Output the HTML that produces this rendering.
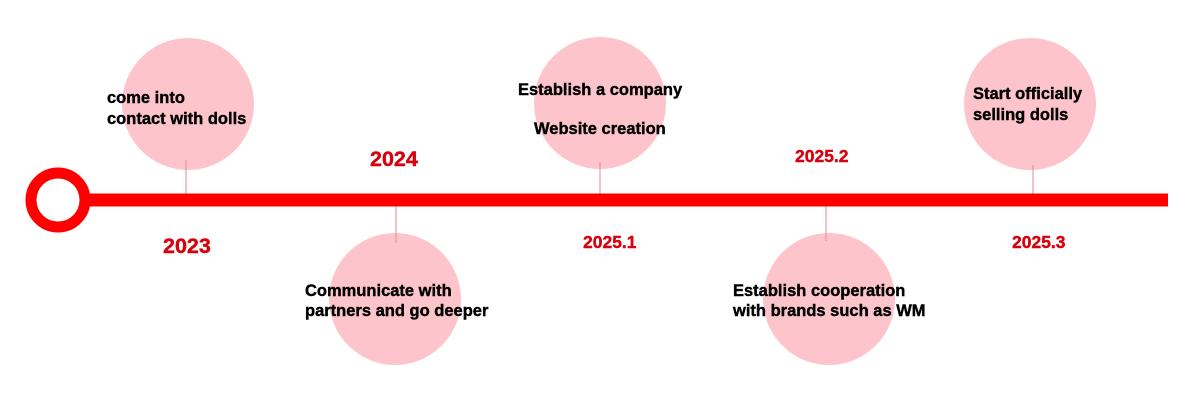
<!DOCTYPE html>
<html><head><meta charset="utf-8"><style>
html,body{margin:0;padding:0;background:#fff;}
svg text{font-family:"Liberation Sans",sans-serif;font-weight:bold;}
</style></head><body>
<svg width="1200" height="400" viewBox="0 0 1200 400" xmlns="http://www.w3.org/2000/svg">
<rect width="1200" height="400" fill="#fff"/>
<g fill="#fdc5cb">
<circle cx="188" cy="104" r="66"/>
<circle cx="395" cy="299" r="66"/>
<circle cx="600" cy="103" r="66"/>
<circle cx="829" cy="299" r="66"/>
<circle cx="1030" cy="104" r="66"/>
</g>
<g stroke="#e58a95" stroke-width="1">
<line x1="186" y1="160" x2="186" y2="194"/>
<line x1="396" y1="206" x2="396" y2="243"/>
<line x1="600" y1="162" x2="600" y2="194"/>
<line x1="826" y1="206" x2="826" y2="241"/>
<line x1="1033" y1="165" x2="1033" y2="194"/>
</g>
<rect x="84" y="193.5" width="1084" height="13" fill="#ff0000"/>
<circle cx="58" cy="200" r="27" fill="#fff" stroke="#ff0000" stroke-width="11"/>
<g fill="#000" font-size="16.5" stroke="#000" stroke-width="0.4">
<text x="107" y="103">come into</text>
<text x="107" y="124">contact with dolls</text>
<text x="305" y="296">Communicate with</text>
<text x="305" y="316">partners and go deeper</text>
<text x="518" y="95">Establish a company</text>
<text x="534" y="134">Website creation</text>
<text x="733" y="296">Establish cooperation</text>
<text x="733" y="316">with brands such as WM</text>
<text x="973" y="99">Start officially</text>
<text x="973" y="120">selling dolls</text>
</g>
<g fill="#d8000c" stroke="#d8000c" stroke-width="0.4">
<text x="163" y="253" font-size="21.5">2023</text>
<text x="370" y="166" font-size="21.5">2024</text>
<text x="583" y="248" font-size="17.5">2025.1</text>
<text x="795" y="162" font-size="17.5">2025.2</text>
<text x="1012" y="248" font-size="17.5">2025.3</text>
</g>
</svg>
</body></html>
